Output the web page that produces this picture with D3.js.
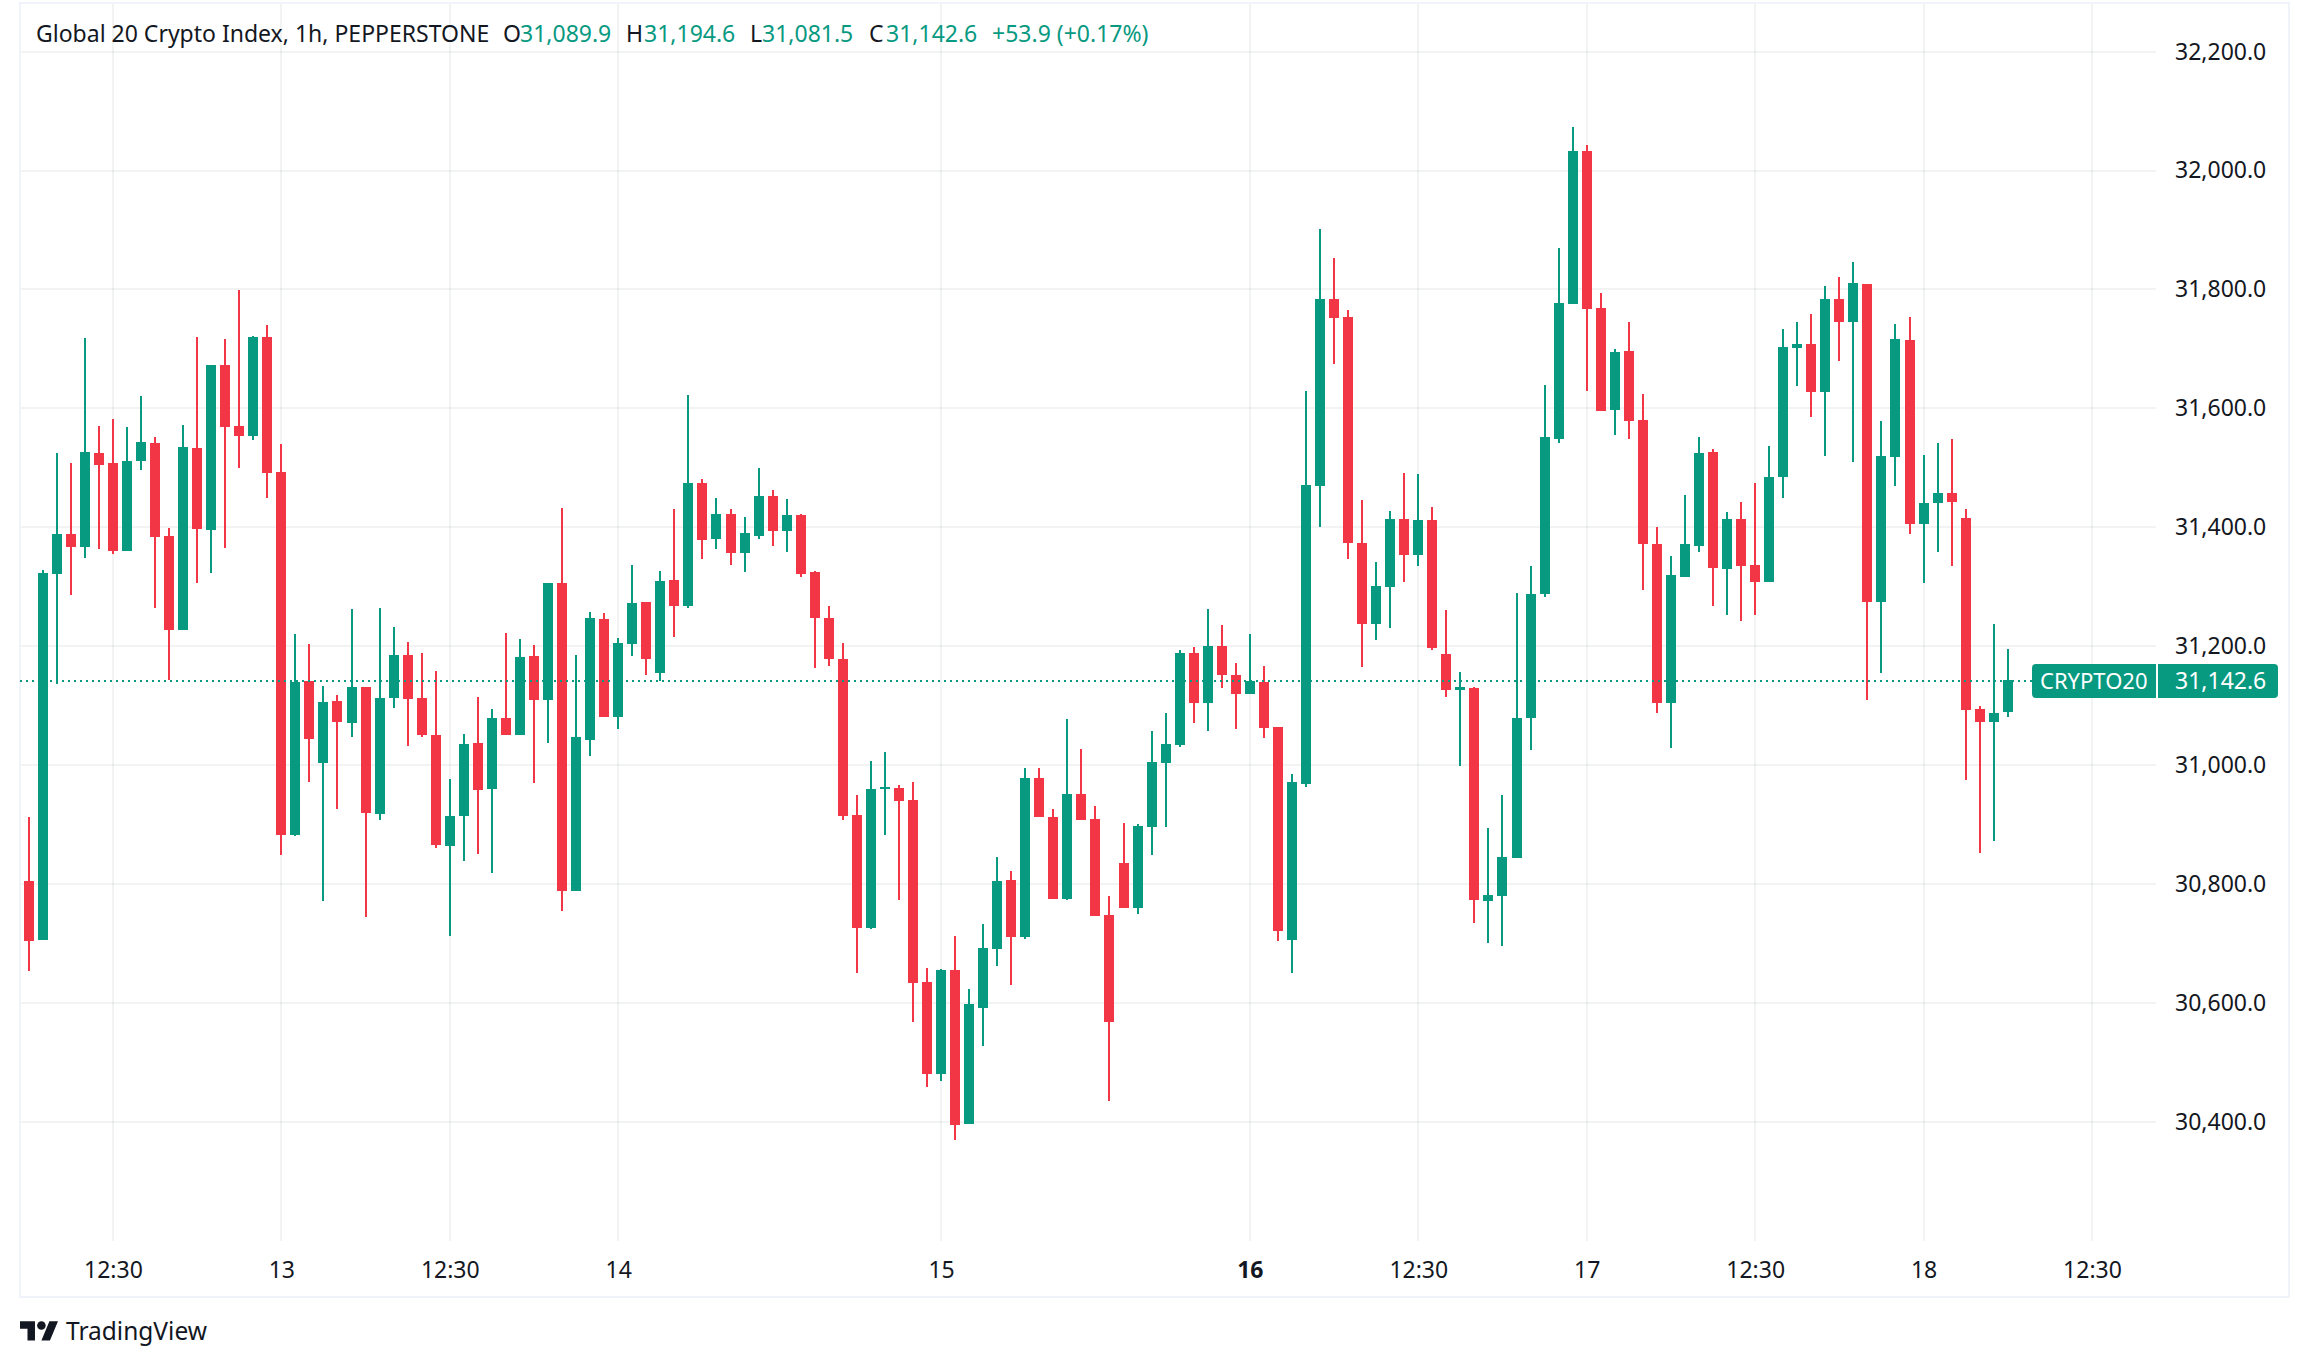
<!DOCTYPE html>
<html>
<head>
<meta charset="utf-8">
<title>Global 20 Crypto Index</title>
<script src="https://d3js.org/d3.v7.min.js"></script>
<style>
  html, body { margin: 0; padding: 0; background: #fff; }
  svg { display: block; }
  text { font-family: "Noto Sans", sans-serif; font-size: 23px; fill: #131722; }
</style>
</head>
<body>
<svg id="chart" width="2308" height="1367"></svg>
<script>
const opens = [30805,30705,31321,31388,31366,31525,31508,31360,31512,31542,31385,31228,31534,31395,31673,31571,31554,31720,31493,30882,31141,31003,31107,31070,31131,30917,31112,31185,31112,31050,30864,30914,31037,30959,31079,31050,31183,31109,31307,30788,31042,31245,31080,31203,31274,31154,31311,31267,31475,31380,31422,31356,31386,31452,31393,31420,31324,31247,31179,30916,30726,30959,30961,30941,30635,30480,30655,30396,30591,30690,30806,30710,30978,30912,30774,30951,30909,30747,30835,30759,30895,31003,31033,31189,31104,31201,31152,31119,31139,31064,30705,30968,31469,31784,31754,31374,31237,31300,31414,31353,31412,31186,31127,31129,30771,30779,30843,31079,31287,31549,31776,32033,31769,31598,31697,31581,31372,31105,31317,31369,31527,31330,31414,31337,31308,31485,31702,31709,31628,31784,31746,31810,31274,31519,31715,31406,31440,31458,31416,31094,31072,31089.9];
const highs = [30912,31328,31525,31508,31719,31571,31582,31569,31621,31551,31398,31572,31720,31673,31717,31799,31722,31740,31540,31220,31203,31133,31117,31262,31131,31264,31232,31207,31188,31159,30976,31052,31114,31094,31222,31212,31202,31307,31432,31185,31257,31255,31213,31336,31274,31327,31430,31622,31482,31450,31430,31417,31499,31462,31448,31422,31327,31267,31206,30949,31006,31022,30966,30971,30658,30657,30712,30623,30732,30845,30821,30995,30995,30926,31077,31027,30931,30779,30902,30900,31057,31087,31193,31198,31263,31235,31171,31221,31166,31064,30985,31629,31902,31853,31765,31446,31342,31427,31491,31490,31434,31260,31156,31131,30894,30949,31290,31334,31640,31870,32074,32043,31794,31700,31746,31625,31401,31351,31455,31551,31532,31425,31443,31475,31537,31734,31746,31759,31806,31821,31847,31810,31578,31742,31754,31522,31542,31549,31430,31099,31238,31194.6];
const lows = [30653,30705,31136,31286,31348,31363,31355,31360,31497,31265,31143,31228,31307,31323,31365,31500,31547,31450,30848,30880,30971,30771,30926,31047,30744,30907,31096,31032,31048,30860,30712,30838,30850,30818,31050,31050,30969,31037,30754,30788,31016,31080,31060,31184,31152,31141,31216,31265,31346,31363,31336,31324,31381,31368,31359,31316,31164,31166,30907,30650,30724,30882,30773,30568,30458,30468,30369,30396,30527,30662,30630,30707,30912,30774,30773,30907,30746,30435,30759,30749,30848,30895,31030,31070,31058,31130,31060,31119,31046,30704,30650,30963,31400,31675,31347,31165,31210,31231,31308,31335,31193,31114,30998,30734,30700,30695,30843,31026,31282,31542,31776,31630,31596,31556,31549,31295,31087,31028,31317,31359,31267,31253,31243,31253,31308,31450,31638,31586,31520,31680,31509,31110,31154,31470,31389,31307,31359,31334,30974,30852,30873,31081.5];
const closes = [30704,31323,31388,31366,31527,31505,31360,31512,31544,31383,31228,31535,31397,31673,31569,31554,31720,31492,30882,31139,31043,31106,31072,31131,30919,31112,31185,31111,31050,30865,30914,31035,30958,31079,31050,31181,31109,31307,30788,31048,31247,31080,31205,31272,31178,31309,31267,31475,31378,31422,31356,31390,31452,31393,31420,31322,31247,31179,30914,30726,30959,30963,30939,30633,30480,30655,30394,30598,30692,30805,30710,30978,30912,30774,30951,30907,30746,30568,30759,30897,31005,31035,31189,31104,31201,31151,31119,31141,31062,30721,30971,31471,31784,31752,31374,31237,31301,31414,31353,31412,31197,31126,31131,30773,30781,30845,31079,31288,31551,31778,32033,31768,31596,31695,31578,31371,31105,31319,31371,31525,31332,31414,31335,31308,31485,31704,31709,31628,31784,31746,31811,31274,31520,31717,31406,31441,31458,31443,31092,31072,31087,31142.6];

const priceTicks = [30400,30600,30800,31000,31200,31400,31600,31800,32000,32200];
const timeTickIndex = [6,18,30,42,65,87,99,111,123,135,147];
const timeTickLabels = ['12:30','13','12:30','14','15','16','12:30','17','12:30','18','12:30'];
const boldTimeTick = '16';

const legendTitle = 'Global 20 Crypto Index, 1h, PEPPERSTONE';
const legendOhlc = ['O','H','L','C'];
const legendValues = ['31,089.9','31,194.6','31,081.5','31,142.6'];
const legendChange = '+53.9 (+0.17%)';
const symbolTag = 'CRYPTO20';

const GREEN = '#089981';
const RED = '#f23645';
const GRID = 'rgba(42,46,57,0.06)';
const BORDER = '#f0f3fa';

const svg = d3.select('#chart');
const plotLeft = 20, plotRight = 2156, plotTop = 3, plotBottom = 1241;

const x = d3.scaleLinear().domain([0, 147]).range([28.7, 2092]);
const y = d3.scaleLinear().domain([30400, 32200]).range([1121.7, 51.7]);
const snap = (v) => Math.round(v);

// grid
const grid = svg.append('g');
grid.selectAll('.h').data(priceTicks).join('rect')
  .attr('x', plotLeft).attr('width', plotRight - plotLeft)
  .attr('y', (d) => snap(y(d)) - 1).attr('height', 2)
  .attr('fill', GRID);
grid.selectAll('.v').data(timeTickIndex).join('rect')
  .attr('class', 'v')
  .attr('x', (d) => snap(x(d)) - 1).attr('width', 2)
  .attr('y', plotTop).attr('height', plotBottom - plotTop)
  .attr('fill', GRID);

// frame
svg.append('rect')
  .attr('x', 20).attr('y', 3).attr('width', 2269).attr('height', 1294)
  .attr('fill', 'none').attr('stroke', BORDER).attr('stroke-width', 2);

// candles
const candles = d3.range(opens.length).map((i) => ({
  i, o: opens[i], h: highs[i], l: lows[i], c: closes[i],
}));
const candleColor = (d) => (d.c >= d.o ? GREEN : RED);
const candle = svg.append('g').attr('shape-rendering', 'crispEdges')
  .selectAll('g').data(candles).join('g')
  .attr('fill', candleColor);
candle.append('rect')
  .attr('x', (d) => snap(x(d.i)) - 1).attr('width', 2)
  .attr('y', (d) => snap(y(d.h)))
  .attr('height', (d) => Math.max(1, snap(y(d.l)) - snap(y(d.h))));
candle.append('rect')
  .attr('x', (d) => snap(x(d.i)) - 5).attr('width', 10)
  .attr('y', (d) => snap(y(Math.max(d.o, d.c))))
  .attr('height', (d) => Math.max(2, snap(y(Math.min(d.o, d.c))) - snap(y(Math.max(d.o, d.c)))));

// last price line
const lastClose = closes[closes.length - 1];
const lastY = Math.ceil(y(lastClose));
svg.append('line')
  .attr('x1', plotLeft).attr('x2', 2032)
  .attr('y1', lastY).attr('y2', lastY)
  .attr('stroke', GREEN).attr('stroke-width', 2)
  .attr('stroke-dasharray', '2 4');

// axes
const axisRight = d3.axisRight(y)
  .tickValues(priceTicks)
  .tickFormat(d3.format(',.1f'))
  .tickSize(0);
const priceAxis = svg.append('g')
  .attr('transform', 'translate(2175,0)')
  .call(axisRight);
priceAxis.select('.domain').remove();
priceAxis.selectAll('text').attr('x', 0).attr('dy', '0.32em').style('font-size', '23px').style('font-family', null).attr('fill', null);

const axisBottom = d3.axisBottom(x)
  .tickValues(timeTickIndex)
  .tickFormat((d, i) => timeTickLabels[i])
  .tickSize(0);
const timeAxis = svg.append('g')
  .attr('transform', `translate(0,${plotBottom})`)
  .call(axisBottom);
timeAxis.select('.domain').remove();
timeAxis.selectAll('text')
  .attr('y', 37).attr('dy', 0)
  .attr('font-size', null).attr('font-family', null)
  .style('font-weight', (d, i) => (timeTickLabels[i] === boldTimeTick ? 700 : 400));

// legend
const legend = svg.append('g').attr('transform', 'translate(0,42)');
legend.append('text').attr('x', 36).text(legendTitle);
const ohlcX = [503, 626, 750, 869];
const valueX = [520, 644, 762, 886];
legendOhlc.forEach((k, i) => {
  legend.append('text').attr('x', ohlcX[i]).text(k);
  legend.append('text').attr('x', valueX[i]).style('fill', GREEN).text(legendValues[i]);
});
legend.append('text').attr('x', 992).style('fill', GREEN).text(legendChange);

// price tags
const tagPath = (x0, x1, y0, y1, rl, rr) => {
  const p = d3.path();
  p.moveTo(x0 + rl, y0);
  p.lineTo(x1 - rr, y0);
  if (rr) p.arcTo(x1, y0, x1, y0 + rr, rr);
  p.lineTo(x1, y1 - rr);
  if (rr) p.arcTo(x1, y1, x1 - rr, y1, rr);
  p.lineTo(x0 + rl, y1);
  if (rl) p.arcTo(x0, y1, x0, y1 - rl, rl);
  p.lineTo(x0, y0 + rl);
  if (rl) p.arcTo(x0, y0, x0 + rl, y0, rl);
  p.closePath();
  return p.toString();
};
svg.append('path').attr('d', tagPath(2032, 2156, lastY - 17, lastY + 17, 4, 0)).attr('fill', GREEN);
svg.append('path').attr('d', tagPath(2158, 2278, lastY - 17, lastY + 17, 0, 4)).attr('fill', GREEN);
svg.append('text').attr('x', 2040).attr('y', lastY + 8).style('fill', '#fff').style('font-size', '22px').text(symbolTag);
svg.append('text').attr('x', 2175).attr('y', lastY + 8).style('fill', '#fff').text(d3.format(',.1f')(lastClose));

// attribution
const logo = svg.append('g').attr('transform', 'translate(20,1317) scale(1.07)').attr('fill', '#131722');
logo.append('path').attr('d', 'M14 22H7V11H0V4h14v18zM28 22h-8l7.5-18h8L28 22z');
logo.append('circle').attr('cx', 20).attr('cy', 8).attr('r', 4);
svg.append('text').attr('x', 66).attr('y', 1340).style('font-size', '24.5px').text('TradingView');
</script>
</body>
</html>
